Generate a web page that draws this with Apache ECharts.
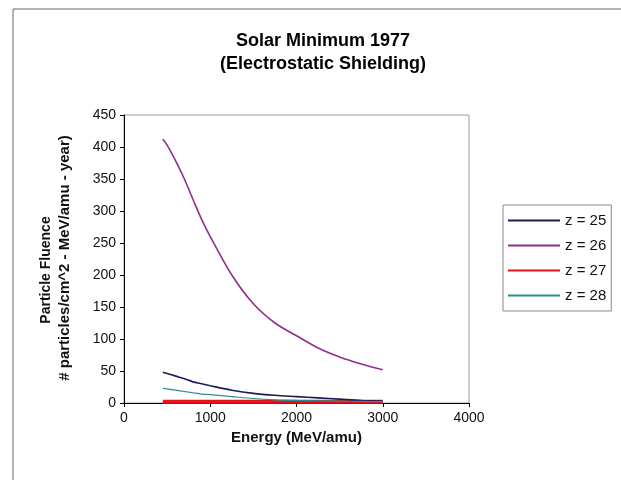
<!DOCTYPE html>
<html><head><meta charset="utf-8">
<script src="https://cdn.jsdelivr.net/npm/echarts@6/dist/echarts.min.js"></script>
<style>html,body{margin:0;padding:0;background:#fff}#c{width:621px;height:480px}</style>
</head><body><div id="c"></div>
<script>
const seriesNames = ['z = 25', 'z = 26', 'z = 27', 'z = 28'];
const energyA = [450, 500, 600, 700, 800, 900, 1000, 1250, 1500, 1750, 2000, 2250, 2500, 2750, 3000];
const z25 = [48, 46, 42, 38, 33, 30, 27, 20, 15, 12, 10, 8, 6, 4, 3];
const z26 = [412, 403, 378, 350, 318, 287, 260, 200, 155, 125, 105, 86, 72, 61, 52];
const z27 = [2, 2, 2, 2, 2, 2, 2, 2, 2, 2, 2, 2, 2, 2, 2];
const z28 = [23, 22, 20, 18, 16, 14, 13, 10, 7, 5, 4, 3.5, 3, 2.5, 2];
const xTicks = [0, 1000, 2000, 3000, 4000];
const yTicks = [0, 50, 100, 150, 200, 250, 300, 350, 400, 450];

const pair = (ys) => energyA.map((e, i) => [e, ys[i]]);
const FONT = '"Liberation Sans", Arial, sans-serif';
const colors = ['#1c1c5c', '#8e2f8e', '#e3121c', '#2f8c8c'];
const widths = [1.6, 1.6, 4, 1.2];
const datas = [z25, z26, z27, z28];

const chart = echarts.init(document.getElementById('c'));
chart.setOption({
  animation: false,
  backgroundColor: '#fff',
  textStyle: { fontFamily: FONT },
  title: {
    text: 'Solar Minimum 1977\n(Electrostatic Shielding)',
    left: 318, top: 25, textAlign: 'center',
    textStyle: { fontSize: 18, fontWeight: 'bold', color: '#000', lineHeight: 23, fontFamily: FONT }
  },
  legend: {
    orient: 'vertical', left: 503, top: 205,
    width: 115,
    padding: [8, 5, 8, 4],
    itemWidth: 52, itemHeight: 14, itemGap: 10,
    borderColor: '#888', borderWidth: 1,
    itemStyle: { opacity: 0 },
    textStyle: { fontSize: 15, color: '#111', fontFamily: FONT },
    data: seriesNames
  },
  grid: { left: 124, right: 152, top: 115, bottom: 77, show: true, borderColor: '#9a9a9a', borderWidth: 1, backgroundColor: '#fff' },
  xAxis: {
    type: 'value', min: 0, max: 4000, interval: 1000,
    name: 'Energy (MeV/amu)', nameLocation: 'middle', nameGap: 27,
    nameTextStyle: { fontSize: 15, fontWeight: 'bold', color: '#111', fontFamily: FONT },
    axisLine: { show: true, lineStyle: { color: '#000' } },
    axisTick: { show: true, length: 4, lineStyle: { color: '#000' } },
    axisLabel: { fontSize: 14, color: '#111', margin: 8, fontFamily: FONT, formatter: (v) => String(v) },
    splitLine: { show: false }
  },
  yAxis: {
    type: 'value', min: 0, max: 450, interval: 50,
    axisLine: { show: true, lineStyle: { color: '#000' } },
    axisTick: { show: true, length: 4, lineStyle: { color: '#000' } },
    axisLabel: { fontSize: 14, color: '#111', margin: 8, fontFamily: FONT, formatter: (v) => String(v) },
    splitLine: { show: false }
  },
  graphic: [
    { type: 'line', shape: { x1: 13, y1: 9, x2: 13, y2: 480 }, style: { stroke: '#999', lineWidth: 1.5 } },
    { type: 'line', shape: { x1: 13, y1: 9, x2: 621, y2: 9 }, style: { stroke: '#999', lineWidth: 1.5 } },
    { type: 'text', x: 46, y: 270, rotation: Math.PI / 2, style: { text: 'Particle Fluence', fontSize: 14, fontWeight: 'bold', fill: '#111', align: 'center', verticalAlign: 'middle', fontFamily: FONT } },
    { type: 'text', x: 65, y: 258, rotation: Math.PI / 2, style: { text: '# particles/cm^2 - MeV/amu - year)', fontSize: 15, fontWeight: 'bold', fill: '#111', align: 'center', verticalAlign: 'middle', fontFamily: FONT } }
  ],
  series: seriesNames.map((n, i) => ({
    name: n, type: 'line', data: pair(datas[i]), smooth: 0.3, symbol: 'none',
    color: colors[i],
    lineStyle: { color: colors[i], width: widths[i] },
    z: i === 2 ? 1 : 3
  }))
});
</script></body></html>
